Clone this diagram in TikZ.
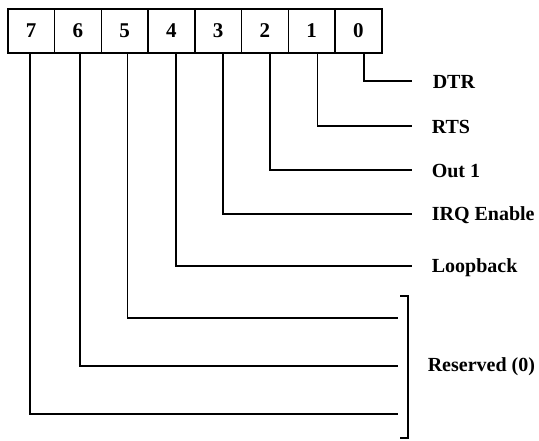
\documentclass[tikz,border=0pt]{standalone}
\usepackage{fontspec}
\setmainfont{Liberation Serif}
\begin{document}
\begin{tikzpicture}[x=1pt,y=-1pt,line width=1.6pt,
  cell/.style={draw,minimum width=46.75pt,minimum height=44pt,inner sep=0pt,anchor=north west,font=\fontsize{21}{21}\selectfont\bfseries},
  lbl/.style={anchor=west,inner sep=0pt,font=\fontsize{20}{20}\selectfont\bfseries},
  wire/.style={line width=1.6pt}]
\fill[white] (0,0) rectangle (539,441);
\useasboundingbox (0,0) rectangle (539,441);
\foreach \b [count=\i from 0] in {7,6,5,4,3,2,1,0}
  \node[cell] (b\b) at ({7+46.75*\i},8) {\b};
% labels
\node[lbl] (dtr) at (432,82) {DTR};
\node[lbl] (rts) at (431,127) {RTS};
\node[lbl] (out) at (431,171) {Out 1};
\node[lbl] (irq) at (431,215) {IRQ Enable};
\node[lbl] (loop) at (431,268) {Loopback};
\node[lbl] (res) at (427,367) {Reserved (0)};
% line ends
\coordinate (e0) at (412,81);
\coordinate (e1) at (412,126);
\coordinate (e2) at (412,170);
\coordinate (e3) at (412,214);
\coordinate (e4) at (412,266);
\coordinate (e5) at (398,318);
\coordinate (e6) at (398,366);
\coordinate (e7) at (398,414);
% connectors
\draw[wire] ([xshift=5.4pt]b0.south) |- (e0);
\draw[wire] ([xshift=6pt]b1.south) |- (e1);
\draw[wire] ([xshift=4.9pt]b2.south) |- (e2);
\draw[wire] ([xshift=4.6pt]b3.south) |- (e3);
\draw[wire] ([xshift=4.4pt]b4.south) |- (e4);
\draw[wire] ([xshift=3pt]b5.south) |- (e5);
\draw[wire] ([xshift=2pt]b6.south) |- (e6);
\draw[wire] ([xshift=-1.4pt]b7.south) |- (e7);
% bracket
\coordinate (bt) at (400,296);
\coordinate (bb) at (400,438);
\draw[wire] (bt) -- ++(8,0) |- (bb);
\end{tikzpicture}
\end{document}
